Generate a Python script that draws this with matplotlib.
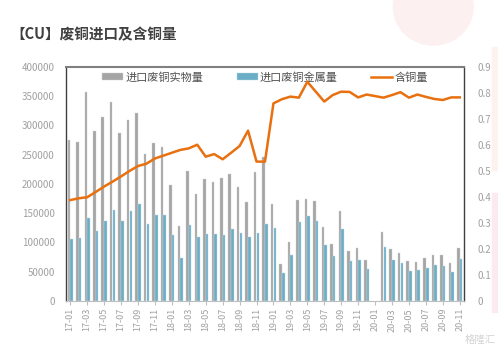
import numpy as np
import matplotlib
matplotlib.use('Agg')
import matplotlib.pyplot as plt
from matplotlib.patches import Ellipse, Rectangle

plt.rcParams['font.family'] = ['Noto Sans CJK SC', 'DejaVu Sans']

# months 17-01 .. 20-11
months = ['%02d-%02d' % (y, m) for y in range(17, 21) for m in range(1, 13)][:47]

# imported scrap copper, physical tonnage (20-01 missing)
physical = [275000, 272000, 357700, 290500, 313900, 339500, 287100, 309300, 321300, 251200,
            270500, 263200, 198800, 128700, 222200, 182900, 209000, 203400, 209700, 216500,
            195400, 169200, 219900, 246600, 165800, 63200, 100300, 173200, 173800, 170900,
            126500, 98000, 153800, 84900, 90600, 70100, np.nan, 117400, 88900, 81500,
            68400, 67200, 73500, 79100, 78100, 64900, 91100]

# metal content tonnage
metal = [106000, 107100, 141300, 120200, 136700, 155000, 136200, 153800, 165800, 132100,
         147500, 146400, 112200, 73500, 129900, 109400, 115000, 114500, 112800, 123000,
         116200, 109900, 116800, 131000, 125300, 48400, 78600, 135000, 145800, 136700,
         96300, 76900, 123000, 67800, 70600, 54700, np.nan, 91700, 70100, 64400,
         51800, 52400, 56400, 61500, 59800, 50100, 71300]

# copper content ratio
ratio = [0.388, 0.395, 0.399, 0.419, 0.440, 0.459, 0.479, 0.500, 0.519, 0.528,
         0.548, 0.559, 0.570, 0.581, 0.587, 0.601, 0.555, 0.565, 0.545, 0.570,
         0.596, 0.655, 0.536, 0.536, 0.760, 0.776, 0.786, 0.782, 0.843, 0.805,
         0.767, 0.792, 0.805, 0.804, 0.783, 0.794, np.nan, 0.782, 0.792, 0.803,
         0.782, 0.794, 0.785, 0.777, 0.773, 0.783, 0.783]

grey = '#A5A5A5'
blue = '#6AADC5'
orange = '#E8700F'
txt = '#A0A0A0'

fig = plt.figure(figsize=(4.98, 3.47), dpi=100)

# faint watermark shapes
fig.patches.append(Ellipse((0.87, 0.98), 0.16, 0.22, transform=fig.transFigure,
                           color='#FCF0F1', zorder=0))
fig.patches.append(Rectangle((0.988, 0.51), 0.02, 0.355, transform=fig.transFigure,
                             color='#FEF2EE', zorder=0))
fig.patches.append(Rectangle((0.988, 0.10), 0.02, 0.345, transform=fig.transFigure,
                             color='#FBEBEE', zorder=0))

ax = fig.add_axes([0.1325, 0.1326, 0.7992, 0.6744])
ax.patch.set_alpha(0)
x = np.arange(len(months))
w = 0.3
ax.bar(x - 0.16, physical, w, color=grey, edgecolor='#D0D0D0', linewidth=0.3, label='进口废铜实物量')
ax.bar(x + 0.16, metal, w, color=blue, edgecolor='#B8DCE8', linewidth=0.3, label='进口废铜金属量')
ax.set_ylim(0, 400000)
ax.set_xlim(-0.5, 46.5)
ax.set_yticks(range(0, 400001, 50000))
ax.tick_params(axis='y', length=0, labelsize=7, labelcolor=txt, pad=8)
ax.set_xticks(x[::2])
ax.set_xticklabels(months[::2], rotation=90, fontsize=6.5, color=txt)
ax.tick_params(axis='x', length=3, color='#BFBFBF', pad=2)

for s in ['left', 'right']:
    ax.spines[s].set_color('#404040')
    ax.spines[s].set_linewidth(1.0)
ax.spines['top'].set_color('#808080')
ax.spines['top'].set_linewidth(1.5)
ax.spines['bottom'].set_color('#BFBFBF')

ax2 = ax.twinx()
ok = ~np.isnan(np.array(ratio))
ax2.plot(x[ok], np.array(ratio)[ok], color=orange, lw=1.8, label='含铜量')
ax2.set_ylim(0, 0.9)
ax2.set_yticks(np.arange(0, 0.91, 0.1))
ax2.set_yticklabels(['0'] + ['%.1f' % v for v in np.arange(0.1, 0.91, 0.1)])
ax2.tick_params(axis='y', length=0, labelsize=7, labelcolor=txt, pad=10)
for s in ax2.spines.values():
    s.set_visible(False)

h1, l1 = ax.get_legend_handles_labels()
h2, l2 = ax2.get_legend_handles_labels()
leg = ax.legend(h1 + h2, l1 + l2, loc='upper center', ncol=3, frameon=False,
                fontsize=8, bbox_to_anchor=(0.5, 1.02), columnspacing=3.0,
                handlelength=1.9, handleheight=0.6, handletextpad=0.2)
for t in leg.get_texts():
    t.set_color('#505050')

fig.text(0.02, 0.9, '【CU】废铜进口及含铜量', fontsize=10.5, fontweight='bold',
         color='#404040', va='center')
fig.text(0.995, 0.012, '格隆汇', fontsize=7.5, color='#C8C8C8', ha='right', alpha=0.8)

fig.savefig('out.png', dpi=100)
